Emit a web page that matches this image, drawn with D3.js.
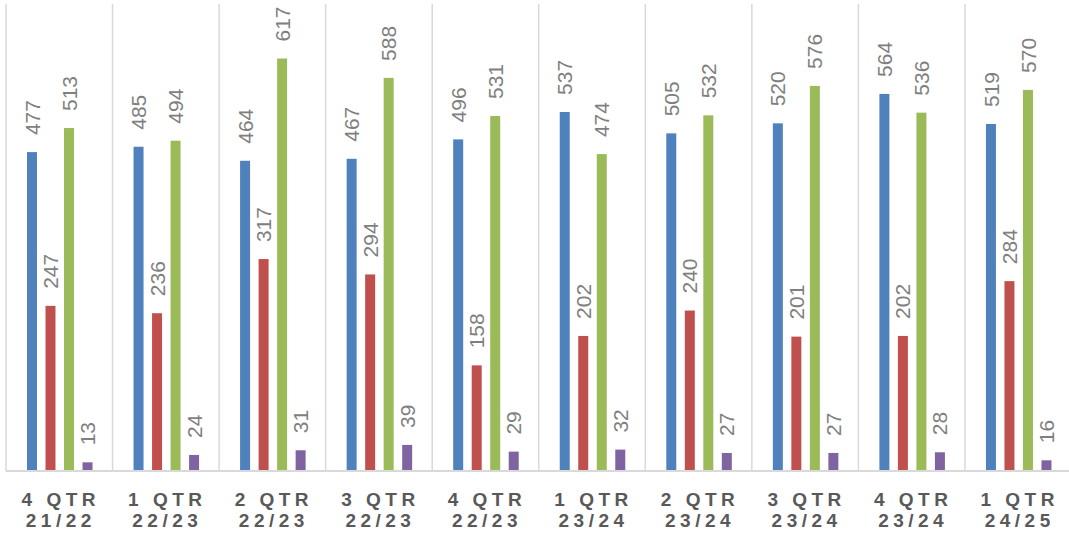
<!DOCTYPE html>
<html>
<head>
<meta charset="utf-8">
<script src="https://cdn.jsdelivr.net/npm/d3@7"></script>
<style>
  body { margin: 0; background: #fff; }
  svg { display: block; font-family: "Liberation Sans", Arial, sans-serif; }
</style>
</head>
<body>
<div class="chart"></div>
<script>
// Set Parms
var svgWidth = 1069;
var svgHeight = 539;

// data
var quarters = ["4 QTR|21/22", "1 QTR|22/23", "2 QTR|22/23", "3 QTR|22/23", "4 QTR|22/23",
                "1 QTR|23/24", "2 QTR|23/24", "3 QTR|23/24", "4 QTR|23/24", "1 QTR|24/25"];
var seriesNames = ["s1", "s2", "s3", "s4"];
var s1 = [477, 485, 464, 467, 496, 537, 505, 520, 564, 519];
var s2 = [247, 236, 317, 294, 158, 202, 240, 201, 202, 284];
var s3 = [513, 494, 617, 588, 531, 474, 532, 576, 536, 570];
var s4 = [13, 24, 31, 39, 29, 32, 27, 27, 28, 16];
var colors = ["#4f81bd", "#c0504d", "#9bbb59", "#8064a2"];

var seriesVals = [s1, s2, s3, s4];
var rows = quarters.map(function(q, i) {
  return { q: q, vals: seriesVals.map(function(s, k) { return { key: seriesNames[k], v: s[i], k: k }; }) };
});

// The svg
var svg = d3.select(".chart")
  .append("svg")
  .attr("width", svgWidth)
  .attr("height", svgHeight);

// scales
var x0 = d3.scaleBand()
  .domain(quarters)
  .range([6, 1071.5])
  .padding(0);

var gw = x0.bandwidth();
var x1 = d3.scaleBand()
  .domain(seriesNames)
  .range([gw * 0.197, gw * 0.812])
  .paddingInner(0.46)
  .paddingOuter(0);

var y = d3.scaleLinear()
  .domain([0, 700])
  .range([471, 3]);

// vertical separators
svg.append("g")
  .selectAll("line")
  .data(quarters)
  .enter()
  .append("line")
    .attr("x1", function(d) { return x0(d); })
    .attr("x2", function(d) { return x0(d); })
    .attr("y1", 4)
    .attr("y2", 471)
    .attr("stroke", "#d9d9d9")
    .attr("stroke-width", 1.5);

// groups
var groups = svg.append("g")
  .selectAll("g")
  .data(rows)
  .enter()
  .append("g")
    .attr("transform", function(d) { return "translate(" + x0(d.q) + ",0)"; });

groups.selectAll("rect")
  .data(function(d) { return d.vals; })
  .enter()
  .append("rect")
    .attr("x", function(d) { return x1(d.key); })
    .attr("width", x1.bandwidth())
    .attr("y", function(d) { return y(d.v); })
    .attr("height", function(d) { return y(0) - y(d.v); })
    .attr("fill", function(d) { return colors[d.k]; });

groups.selectAll("text")
  .data(function(d) { return d.vals; })
  .enter()
  .append("text")
    .attr("transform", function(d) {
      return "translate(" + (x1(d.key) + x1.bandwidth() / 2) + "," + (y(d.v) - 17) + ") rotate(-90)";
    })
    .attr("dy", "0.36em")
    .attr("text-anchor", "start")
    .attr("fill", "#7f7f7f")
    .style("font-size", "21px")
    .text(function(d) { return d.v; });

// baseline
svg.append("line")
  .attr("x1", 6)
  .attr("x2", svgWidth)
  .attr("y1", 471)
  .attr("y2", 471)
  .attr("stroke", "#d9d9d9")
  .attr("stroke-width", 2);

// category labels
var labels = svg.append("g")
  .selectAll("text")
  .data(quarters)
  .enter()
  .append("text")
    .attr("text-anchor", "middle")
    .attr("fill", "#595959")
    .style("font-size", "19px")
    .style("font-weight", "bold")
    .style("letter-spacing", "4.5px");

labels.each(function(d) {
  var parts = d.split("|");
  var cx = x0(d) + gw / 2 + 1.5;
  var t = d3.select(this);
  t.append("tspan").attr("x", cx).attr("y", 505.5).text(parts[0]);
  t.append("tspan").attr("x", cx).attr("y", 527).text(parts[1]);
});
</script>
</body>
</html>
